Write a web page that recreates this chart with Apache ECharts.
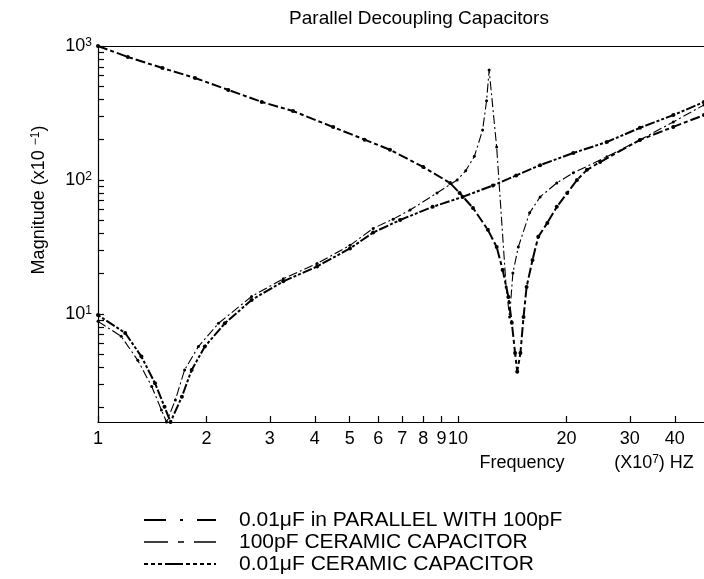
<!DOCTYPE html>
<html><head><meta charset="utf-8">
<script src="https://cdn.jsdelivr.net/npm/echarts@6/dist/echarts.min.js"></script>
<style>html,body{margin:0;padding:0;background:#fff}#c{width:704px;height:579px}</style>
</head><body><div id="c"></div>
<script>
// ---- data (frequency in x10^7 Hz, magnitude in x10^-1) ----
const xTickLabels = [1, 2, 3, 4, 5, 6, 7, 8, 9, 10, 20, 30, 40];
const yLabelTicks = [10, 100, 1000];
const yMinorTicks = [2, 3, 4, 5, 6, 7, 8, 9, 10, 20, 30, 40, 50, 60, 70, 80, 90, 100, 200, 300, 400, 500, 600, 700, 800, 900, 1000];

const seriesNames = ['0.01\u03bcF in PARALLEL WITH 100pF', '100pF CERAMIC CAPACITOR', '0.01\u03bcF CERAMIC CAPACITOR'];

const freqParallel = [1, 1.16, 1.29, 1.41, 1.50, 1.55, 1.64, 1.74, 1.90, 2.16, 2.67, 3.27, 4.06, 5.01, 5.81, 6.6, 7.36, 8.74, 9.94, 10.5, 11.1, 11.7, 12.0, 12.2, 12.8, 13.6, 13.9, 14.2, 14.7, 15.8, 16.9, 18.8, 20.9, 25.9, 32.0, 39.6, 48.2];
const magParallel  = [8.8, 6.8, 4.5, 2.87, 1.92, 1.56, 2.28, 3.82, 5.7, 8.5, 13.5, 18.3, 23.8, 32.5, 43.5, 51, 59.7, 80, 100, 117, 150, 236, 390, 662, 176, 15.9, 9.5, 20.2, 31.6, 56.8, 74.7, 95, 113, 149, 199, 271, 363];

const freq100pF = [1, 1.21, 1.51, 1.86, 2.30, 2.85, 3.48, 4.5, 5.5, 6.47, 8.0, 9.5, 10.1, 11.0, 12.1, 12.8, 13.3, 13.8, 14.1, 14.4, 14.6, 14.9, 15.2, 15.5, 16.1, 16.7, 17.7, 18.8, 20.1, 21.4, 22.8, 24.8, 32.0, 39.6, 48.2];
const mag100pF  = [1000, 828, 685, 577, 470, 382, 327, 248, 200, 168, 125, 95, 80, 61.8, 42.4, 31.6, 21.3, 13.4, 8.6, 5.1, 3.7, 5.1, 9.5, 15.9, 25.3, 37.6, 47.8, 63, 80, 100, 119, 136, 199, 249, 305];

const freq001uF = [1, 1.19, 1.32, 1.44, 1.53, 1.59, 1.71, 1.82, 1.98, 2.25, 2.67, 3.27, 4.06, 5.01, 5.81, 6.9, 8.5, 10.3, 12.5, 14.5, 16.9, 20.9, 25.9, 32.0, 39.6, 48.2];
const mag001uF  = [9.8, 7.2, 4.8, 3.04, 2.03, 1.56, 2.41, 3.82, 5.7, 8.5, 12.7, 17.5, 22.6, 30.8, 40.5, 50.2, 63, 74.7, 91, 108, 129, 159, 192, 245, 305, 382];

// ---- chart ----
const FONT = "'Liberation Sans', Arial, Helvetica, sans-serif";
const pairs = (xs, ys) => xs.map((x, i) => [x, ys[i]]);
const chart = echarts.init(document.getElementById('c'), null, {renderer: 'canvas'});

const xMin = 1, xMax = 48.2, yMin = 1.56, yMax = 1000;

chart.setOption({
  animation: false,
  backgroundColor: '#fff',
  textStyle: {fontFamily: FONT, color: '#000'},
  grid: {left: 98, right: 0, top: 46, bottom: 157, containLabel: false, outerBoundsMode: 'none'},
  xAxis: [{
    type: 'log', logBase: 10, min: xMin, max: xMax, position: 'bottom',
    axisLine: {show: true, onZero: false, lineStyle: {color: '#000', width: 1.2}},
    axisTick: {show: true, inside: true, length: 6, customValues: xTickLabels, lineStyle: {color: '#000', width: 1.2}},
    axisLabel: {show: true, customValues: xTickLabels, margin: 8, fontSize: 18, color: '#000', fontFamily: FONT,
      formatter: v => String(Math.round(v))},
    splitLine: {show: false}, minorTick: {show: false}
  }, {
    type: 'log', logBase: 10, min: xMin, max: xMax, position: 'top',
    axisLine: {show: true, onZero: false, lineStyle: {color: '#000', width: 1.2}},
    axisTick: {show: false}, axisLabel: {show: false}, splitLine: {show: false}
  }],
  yAxis: {
    type: 'log', logBase: 10, min: yMin, max: yMax,
    axisLine: {show: true, onZero: false, lineStyle: {color: '#000', width: 1.2}},
    axisTick: {show: true, inside: true, length: 6, customValues: yMinorTicks, lineStyle: {color: '#000', width: 1.2}},
    axisLabel: {show: true, customValues: yLabelTicks, margin: 6, color: '#000',
      formatter: v => '{b|10}{s|' + Math.round(Math.log10(v)) + '}',
      rich: {b: {fontSize: 18, fontFamily: FONT, color: '#000'},
             s: {fontSize: 12, fontFamily: FONT, color: '#000', verticalAlign: 'top'}}},
    splitLine: {show: false}
  },
  legend: {
    orient: 'vertical', left: 143, top: 509, padding: 0, itemWidth: 72, itemHeight: 12, itemGap: 0,
    textStyle: {fontSize: 21, fontFamily: FONT, color: '#000', padding: [0, 0, 0, 18], lineHeight: 22},
    data: [
      {name: seriesNames[0], itemStyle: {opacity: 0}, lineStyle: {color: '#000', width: 1.8, type: [22, 14, 3, 14]}},
      {name: seriesNames[1], itemStyle: {opacity: 0}, lineStyle: {color: '#000', width: 1.6, type: [24, 10, 6, 10]}},
      {name: seriesNames[2], itemStyle: {opacity: 0}, lineStyle: {color: '#000', width: 2, type: [4, 3, 4, 3, 4, 3, 18, 3, 4, 3, 4, 3, 4, 3]}}
    ]
  },
  graphic: [
    {type: 'text', x: 419, y: 19, style: {text: 'Parallel Decoupling Capacitors', font: '19px ' + FONT, fill: '#000', align: 'center', verticalAlign: 'middle'}},
    {type: 'text', x: 39, y: 200, rotation: Math.PI / 2,
     style: {text: '{a|Magnitude (x10 }{s|\u22121}{a|)}', fill: '#000', align: 'center', verticalAlign: 'middle',
       rich: {a: {fontSize: 18, fontFamily: FONT, fill: '#000'}, s: {fontSize: 12, fontFamily: FONT, fill: '#000', verticalAlign: 'top'}}}},
    {type: 'text', x: 522, y: 463, style: {text: 'Frequency', font: '18px ' + FONT, fill: '#000', align: 'center', verticalAlign: 'middle'}},
    {type: 'text', x: 654, y: 463,
     style: {text: '{a|(X10}{s|7}{a|) HZ}', fill: '#000', align: 'center', verticalAlign: 'middle',
       rich: {a: {fontSize: 18, fontFamily: FONT, fill: '#000'}, s: {fontSize: 12, fontFamily: FONT, fill: '#000', verticalAlign: 'top'}}}}
  ],
  series: [
    {name: seriesNames[0], type: 'line', xAxisIndex: 0, data: pairs(freqParallel, magParallel),
     symbol: 'circle', symbolSize: 3, itemStyle: {color: '#000'},
     lineStyle: {color: '#000', width: 1.1, type: [9, 3, 2, 3]}},
    {name: seriesNames[1], type: 'line', xAxisIndex: 0, data: pairs(freq100pF, mag100pF),
     symbol: 'circle', symbolSize: 4, itemStyle: {color: '#000'},
     lineStyle: {color: '#000', width: 2, type: [10, 3, 4, 3]}},
    {name: seriesNames[2], type: 'line', xAxisIndex: 0, data: pairs(freq001uF, mag001uF),
     symbol: 'circle', symbolSize: 4, itemStyle: {color: '#000'},
     lineStyle: {color: '#000', width: 2, type: [3, 2, 3, 2, 10, 2]}}
  ]
});
</script></body></html>
